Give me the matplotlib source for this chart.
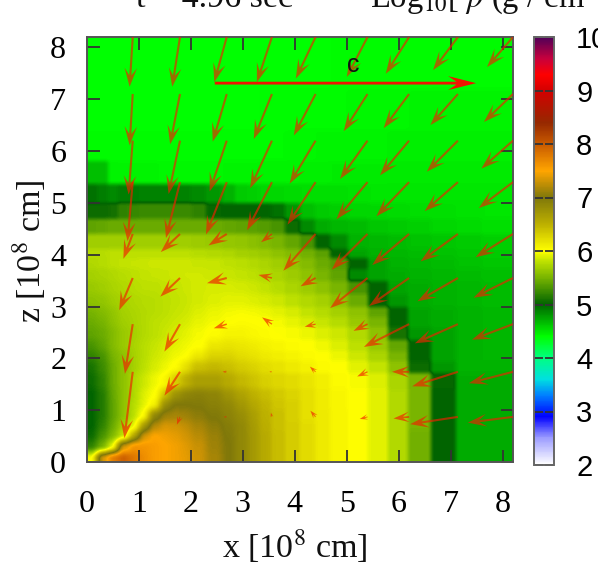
# Density map with velocity arrows
import numpy as np
import matplotlib
matplotlib.use('Agg')
import matplotlib.pyplot as plt
from matplotlib.colors import LinearSegmentedColormap

plt.rcParams['font.family'] = ['Liberation Serif', 'DejaVu Serif']
plt.rcParams['mathtext.fontset'] = 'stix'

# grid cell edges
x_edges = [0, .2, .4, .6, .8, 1.0, 1.2, 1.4, 1.6, 1.8, 2.0, 2.3, 2.6, 2.85, 3.1, 3.32, 3.55, 3.81, 4.1, 4.38,
           4.67, 5.03, 5.4, 5.8, 6.18, 6.63, 7.11, 7.6, 8.2]
z_edges = [0, .2, .4, .6, .8, 1.0, 1.2, 1.4, 1.72, 1.95, 2.15, 2.36, 2.6, 2.8, 3.0, 3.25, 3.5, 3.72, 3.93, 4.1,
           4.4, 4.68, 5.0, 5.36, 5.8, 6.4, 7.2, 8.2]

# log10 density, first row is z = 0
rho = np.array([
    [6.0, 7.3, 7.75, 7.95, 7.8, 7.65, 7.55, 7.5, 7.45, 7.4, 7.3, 7.15, 7.0, 6.85, 6.7, 6.55, 6.42, 6.32, 6.22, 6.14, 6.06, 6.0, 5.92, 5.75, 5.48, 5.0, 4.72, 4.72],
    [5.2, 5.5, 6.0, 7.3, 7.6, 7.6, 7.55, 7.5, 7.45, 7.38, 7.28, 7.12, 7.0, 6.85, 6.7, 6.55, 6.42, 6.32, 6.22, 6.14, 6.06, 6.0, 5.92, 5.75, 5.48, 5.0, 4.72, 4.72],
    [5.05, 5.3, 5.55, 5.85, 6.6, 7.3, 7.5, 7.45, 7.4, 7.32, 7.22, 7.1, 6.98, 6.85, 6.7, 6.55, 6.42, 6.32, 6.22, 6.14, 6.06, 6.0, 5.92, 5.75, 5.48, 5.0, 4.72, 4.72],
    [5.0, 5.2, 5.45, 5.7, 5.95, 6.7, 7.2, 7.35, 7.32, 7.25, 7.15, 7.05, 6.95, 6.85, 6.68, 6.52, 6.4, 6.32, 6.22, 6.14, 6.06, 6.0, 5.92, 5.75, 5.5, 5.0, 4.72, 4.72],
    [5.0, 5.15, 5.4, 5.6, 5.8, 6.05, 6.85, 7.1, 7.15, 7.12, 7.05, 6.98, 6.9, 6.8, 6.65, 6.5, 6.4, 6.3, 6.2, 6.13, 6.06, 6.0, 5.92, 5.75, 5.5, 5.0, 4.72, 4.72],
    [5.0, 5.15, 5.4, 5.6, 5.78, 5.92, 6.1, 6.8, 7.0, 7.0, 6.98, 6.92, 6.85, 6.72, 6.58, 6.47, 6.37, 6.3, 6.2, 6.12, 6.05, 6.0, 5.92, 5.75, 5.5, 5.0, 4.72, 4.72],
    [5.0, 5.15, 5.42, 5.6, 5.75, 5.9, 6.0, 6.4, 6.75, 6.88, 6.92, 6.88, 6.75, 6.62, 6.5, 6.42, 6.34, 6.27, 6.2, 6.12, 6.05, 6.0, 5.92, 5.75, 5.5, 5.0, 4.72, 4.72],
    [5.05, 5.2, 5.45, 5.6, 5.75, 5.85, 5.95, 6.05, 6.3, 6.5, 6.65, 6.65, 6.55, 6.45, 6.38, 6.3, 6.26, 6.22, 6.16, 6.1, 6.03, 5.98, 5.9, 5.72, 5.5, 5.02, 4.72, 4.72],
    [5.1, 5.25, 5.45, 5.6, 5.7, 5.8, 5.88, 5.95, 6.02, 6.2, 6.4, 6.45, 6.4, 6.33, 6.28, 6.22, 6.18, 6.13, 6.08, 6.03, 6.0, 5.92, 5.82, 5.6, 5.05, 4.8, 4.7, 4.7],
    [5.2, 5.3, 5.5, 5.6, 5.7, 5.78, 5.85, 5.9, 5.96, 6.0, 6.15, 6.28, 6.28, 6.22, 6.18, 6.13, 6.1, 6.07, 6.03, 6.0, 5.95, 5.85, 5.72, 5.5, 5.0, 4.75, 4.7, 4.68],
    [5.3, 5.4, 5.55, 5.65, 5.72, 5.78, 5.83, 5.88, 5.92, 5.96, 6.0, 6.15, 6.18, 6.15, 6.12, 6.08, 6.05, 6.02, 6.0, 5.96, 5.9, 5.8, 5.65, 5.42, 5.0, 4.75, 4.7, 4.68],
    [5.4, 5.45, 5.55, 5.65, 5.7, 5.76, 5.8, 5.84, 5.88, 5.92, 5.97, 6.02, 6.07, 6.07, 6.04, 6.02, 6.0, 5.98, 5.95, 5.9, 5.85, 5.75, 5.6, 5.1, 4.8, 4.75, 4.7, 4.68],
    [5.45, 5.5, 5.6, 5.68, 5.72, 5.76, 5.8, 5.82, 5.85, 5.88, 5.93, 5.97, 6.0, 6.02, 6.01, 6.0, 5.97, 5.93, 5.88, 5.83, 5.77, 5.65, 5.5, 5.0, 4.75, 4.72, 4.7, 4.68],
    [5.5, 5.55, 5.62, 5.7, 5.73, 5.76, 5.78, 5.8, 5.83, 5.85, 5.9, 5.94, 5.97, 5.98, 5.97, 5.95, 5.92, 5.88, 5.82, 5.77, 5.7, 5.6, 5.4, 5.0, 4.75, 4.72, 4.7, 4.68],
    [5.6, 5.62, 5.68, 5.72, 5.75, 5.77, 5.78, 5.8, 5.82, 5.84, 5.87, 5.9, 5.92, 5.92, 5.9, 5.88, 5.85, 5.8, 5.75, 5.7, 5.6, 5.45, 5.0, 4.8, 4.72, 4.7, 4.68, 4.66],
    [5.65, 5.68, 5.72, 5.75, 5.78, 5.8, 5.8, 5.82, 5.83, 5.85, 5.87, 5.88, 5.88, 5.87, 5.85, 5.82, 5.78, 5.72, 5.67, 5.6, 5.5, 5.3, 5.0, 4.75, 4.72, 4.7, 4.68, 4.66],
    [5.7, 5.72, 5.75, 5.78, 5.8, 5.82, 5.83, 5.84, 5.85, 5.86, 5.86, 5.85, 5.84, 5.82, 5.8, 5.76, 5.72, 5.67, 5.6, 5.5, 5.4, 4.85, 4.75, 4.72, 4.7, 4.68, 4.66, 4.65],
    [5.75, 5.77, 5.8, 5.82, 5.83, 5.84, 5.85, 5.85, 5.85, 5.85, 5.84, 5.83, 5.81, 5.79, 5.76, 5.72, 5.68, 5.62, 5.55, 5.45, 5.35, 5.0, 4.75, 4.7, 4.68, 4.66, 4.64, 4.62],
    [5.78, 5.78, 5.8, 5.8, 5.8, 5.8, 5.8, 5.8, 5.8, 5.8, 5.78, 5.76, 5.74, 5.7, 5.68, 5.65, 5.6, 5.55, 5.48, 5.38, 5.0, 4.75, 4.7, 4.68, 4.66, 4.64, 4.62, 4.6],
    [5.68, 5.68, 5.68, 5.68, 5.68, 5.68, 5.68, 5.68, 5.68, 5.68, 5.66, 5.65, 5.63, 5.62, 5.58, 5.55, 5.5, 5.42, 5.3, 5.0, 4.85, 4.7, 4.68, 4.66, 4.64, 4.62, 4.6, 4.58],
    [5.4, 5.42, 5.45, 5.45, 5.45, 5.45, 5.45, 5.45, 5.45, 5.45, 5.45, 5.45, 5.42, 5.4, 5.38, 5.35, 5.3, 5.05, 4.85, 4.72, 4.68, 4.66, 4.62, 4.6, 4.58, 4.56, 4.54, 4.52],
    [5.05, 5.05, 5.08, 5.2, 5.22, 5.25, 5.25, 5.25, 5.25, 5.25, 5.2, 5.02, 5.0, 5.0, 5.0, 5.0, 4.95, 4.8, 4.65, 4.6, 4.58, 4.56, 4.55, 4.54, 4.53, 4.52, 4.51, 4.5],
    [4.95, 4.9, 4.85, 4.9, 4.9, 4.88, 4.88, 4.88, 4.88, 4.88, 4.85, 4.8, 4.7, 4.6, 4.58, 4.56, 4.55, 4.54, 4.53, 4.52, 4.52, 4.51, 4.5, 4.5, 4.5, 4.5, 4.5, 4.5],
    [4.65, 4.65, 4.45, 4.44, 4.44, 4.44, 4.44, 4.43, 4.43, 4.43, 4.43, 4.43, 4.44, 4.44, 4.44, 4.45, 4.45, 4.45, 4.46, 4.46, 4.47, 4.47, 4.47, 4.48, 4.48, 4.48, 4.48, 4.48],
    [4.41, 4.41, 4.41, 4.41, 4.41, 4.41, 4.41, 4.41, 4.41, 4.41, 4.41, 4.41, 4.42, 4.42, 4.42, 4.42, 4.42, 4.43, 4.43, 4.44, 4.44, 4.45, 4.45, 4.46, 4.46, 4.46, 4.46, 4.46],
    [4.4, 4.4, 4.4, 4.4, 4.4, 4.4, 4.4, 4.4, 4.4, 4.4, 4.4, 4.4, 4.4, 4.4, 4.4, 4.41, 4.41, 4.41, 4.42, 4.42, 4.42, 4.43, 4.43, 4.43, 4.44, 4.44, 4.44, 4.44],
    [4.4, 4.4, 4.4, 4.4, 4.4, 4.4, 4.4, 4.4, 4.4, 4.4, 4.4, 4.4, 4.4, 4.4, 4.4, 4.4, 4.4, 4.4, 4.4, 4.4, 4.41, 4.41, 4.41, 4.41, 4.41, 4.42, 4.42, 4.42],
])

# velocity arrows, tails are on x_tail / z_tail, first row is the top one
x_tail = [0.88, 1.79, 2.69, 3.56, 4.4, 5.4, 6.2, 7.14, 8.2]
z_tail = [8.2, 7.1, 6.2, 5.4, 4.4, 3.55, 2.66, 1.74, 0.87]
vx = np.array([
    [-.06, -.15, -.24, -.29, -.38, -.40, -.45, -.48, -.50],
    [-.06, -.19, -.27, -.35, -.42, -.46, -.49, -.53, -.56],
    [-.08, -.22, -.33, -.42, -.50, -.53, -.56, -.60, -.61],
    [-.10, -.27, -.40, -.48, -.54, -.60, -.63, -.64, -.66],
    [-.18, -.37, -.35, -.21, -.62, -.69, -.71, -.72, -.72],
    [-.26, -.38, -.38, -.26, -.29, -.72, -.77, -.78, -.76],
    [-.15, -.30, -.25, -.19, -.21, -.27, -.87, -.83, -.79],
    [-.16, -.30, -.08, -.05, -.11, -.20, -.33, -.88, -.85],
    [0, -.06, -.06, -.02, -.10, -.15, -.30, -.92, -.87],
])
vz = np.array([
    [-.96, -.96, -.87, -.87, -.80, -.77, -.71, -.64, -.58],
    [-.99, -.97, -.92, -.87, -.80, -.72, -.66, -.60, -.54],
    [-1.04, -1.03, -.98, -.92, -.83, -.74, -.67, -.60, -.54],
    [-1.14, -1.08, -1.01, -.93, -.82, -.72, -.66, -.56, -.50],
    [-.48, -.35, -.22, -.16, -.71, -.69, -.60, -.53, -.45],
    [-.62, -.36, -.10, .06, -.16, -.58, -.54, -.45, -.38],
    [-.96, -.53, -.08, .13, -.05, -.13, -.44, -.37, -.30],
    [-1.28, -.46, 0, 0, .10, -.09, 0, -.28, -.22],
    [0, -.15, 0, .08, .12, -.04, -.03, -.14, -.11],
])

# reference arrow for the speed of light
c_x, c_z, c_len = 2.46, 7.31, 5.03

cbar_ticks = [2, 3, 4, 5, 6, 7, 8, 9, 10]
xy_ticks = [0, 1, 2, 3, 4, 5, 6, 7, 8]

# colour table of the palette
cmap_pos = [2, 2.5, 2.9, 3.3, 3.6, 4, 4.4, 5, 5.5, 5.8, 6, 6.2, 6.5, 7, 7.5, 8, 8.4, 9, 9.3, 9.6, 10]
cmap_col = ['#ffffff', '#9c9cff', '#0000ff', '#0080ff', '#00e0e0', '#00ff80', '#00ff00', '#006400', '#78b400',
            '#bce000', '#ffff00', '#e6e000', '#bdb000', '#80780a', '#ffa500', '#c85a00', '#962800', '#d20000',
            '#ff0000', '#c8003c', '#500058']
cmap = LinearSegmentedColormap.from_list('rho', [((p - 2) / 8, c) for p, c in zip(cmap_pos, cmap_col)], N=512)


def soften(a, kernel):
    a = np.apply_along_axis(lambda r: np.convolve(r, kernel, mode='same'), 0, a)
    return np.apply_along_axis(lambda r: np.convolve(r, kernel, mode='same'), 1, a)


fig = plt.figure(figsize=(5.98, 5.74), dpi=100)
ax = fig.add_axes([87 / 598, 1 - 462 / 574, 426 / 598, 425 / 574])

# cells on a pixel grid, softened like the scan of the original, more so in the smooth inner part
xf = (np.arange(426) + 0.5) * 8.2 / 426
zf = (np.arange(425) + 0.5) * 8.2 / 425
ix = np.searchsorted(x_edges, xf) - 1
iz = np.searchsorted(z_edges, zf) - 1
pad = 12
field = np.pad(rho[np.ix_(iz, ix)], pad, mode='edge')
light = soften(field, np.array([1, 2, 3, 3, 3, 2, 1]) / 15)[pad:-pad, pad:-pad]
heavy = soften(field, np.array([1, 2, 3, 4, 5, 5, 5, 5, 5, 4, 3, 2, 1]) / 45)[pad:-pad, pad:-pad]
wx = np.clip((3.8 - xf) / 0.6, 0, 1)
wz = np.clip((3.9 - zf) / 0.6, 0, 1)
w = np.outer(wz, wx)
field = w * heavy + (1 - w) * light
im = ax.imshow(field, origin='lower', extent=[0, 8.2, 0, 8.2], cmap=cmap, vmin=2, vmax=10, aspect='auto',
               interpolation='bilinear')

X, Z = np.meshgrid(x_tail, z_tail)
keep = (vx != 0) | (vz != 0)
ax.quiver(X[keep], Z[keep], vx[keep], vz[keep], angles='xy', scale_units='xy', scale=1, units='dots', width=2.1,
          headwidth=6, headlength=9, headaxislength=5.5, color='#f02000', alpha=0.66, zorder=3)
ax.quiver([c_x], [c_z], [c_len], [0], angles='xy', scale_units='xy', scale=1, units='dots', width=2.8,
          headwidth=5, headlength=10, headaxislength=7, color='#f01400', zorder=4)
ax.text(5.13, 7.52, 'c', family=['Liberation Sans'], fontsize=18, ha='center', va='baseline', color='#111111', zorder=5)

ax.set_xlim(0, 8.2)
ax.set_ylim(0, 8.2)
ax.set_xticks(xy_ticks)
ax.set_yticks(xy_ticks)
ax.tick_params(direction='in', length=9, width=1.3, color='#333333', top=True, right=True, labelsize=23)
ax.tick_params(axis='x', pad=20)
ax.tick_params(axis='y', pad=15)
for s in ax.spines.values():
    s.set_linewidth(1.4)
    s.set_color('#555555')

fig.text(295 / 598, 1 - 558 / 574, 'x [10$^{8}$ cm]', fontsize=24.5, ha='center', va='baseline', color='#111111')
fig.text(29 / 598, 1 - 251 / 574, 'z [10$^{8}$ cm]', fontsize=24.5, ha='center', va='center', rotation=90, color='#111111')
fig.text(136 / 598, 1 - 7 / 574, 't = 4.96 sec', fontsize=24.5, ha='left', va='baseline', color='#111111')
fig.text(370 / 598, 1 - 7 / 574, 'Log$_{10}$[ $\\rho$ (g / cm$^{3}$ )]', fontsize=23.5, ha='left', va='baseline', color='#111111')

# colour bar
cax = fig.add_axes([534 / 598, 1 - 465 / 574, 20 / 598, 428 / 574])
cb = fig.colorbar(im, cax=cax, ticks=cbar_ticks)
cb.outline.set_edgecolor('#666666')
cb.outline.set_linewidth(1.4)
cax.tick_params(direction='in', length=6.5, width=1.3, color='#333333', left=True, right=True, labelsize=21, pad=16)
for t in cax.get_yticklabels():
    t.set_fontfamily(['Liberation Sans'])

fig.savefig('out.png', dpi=100)
